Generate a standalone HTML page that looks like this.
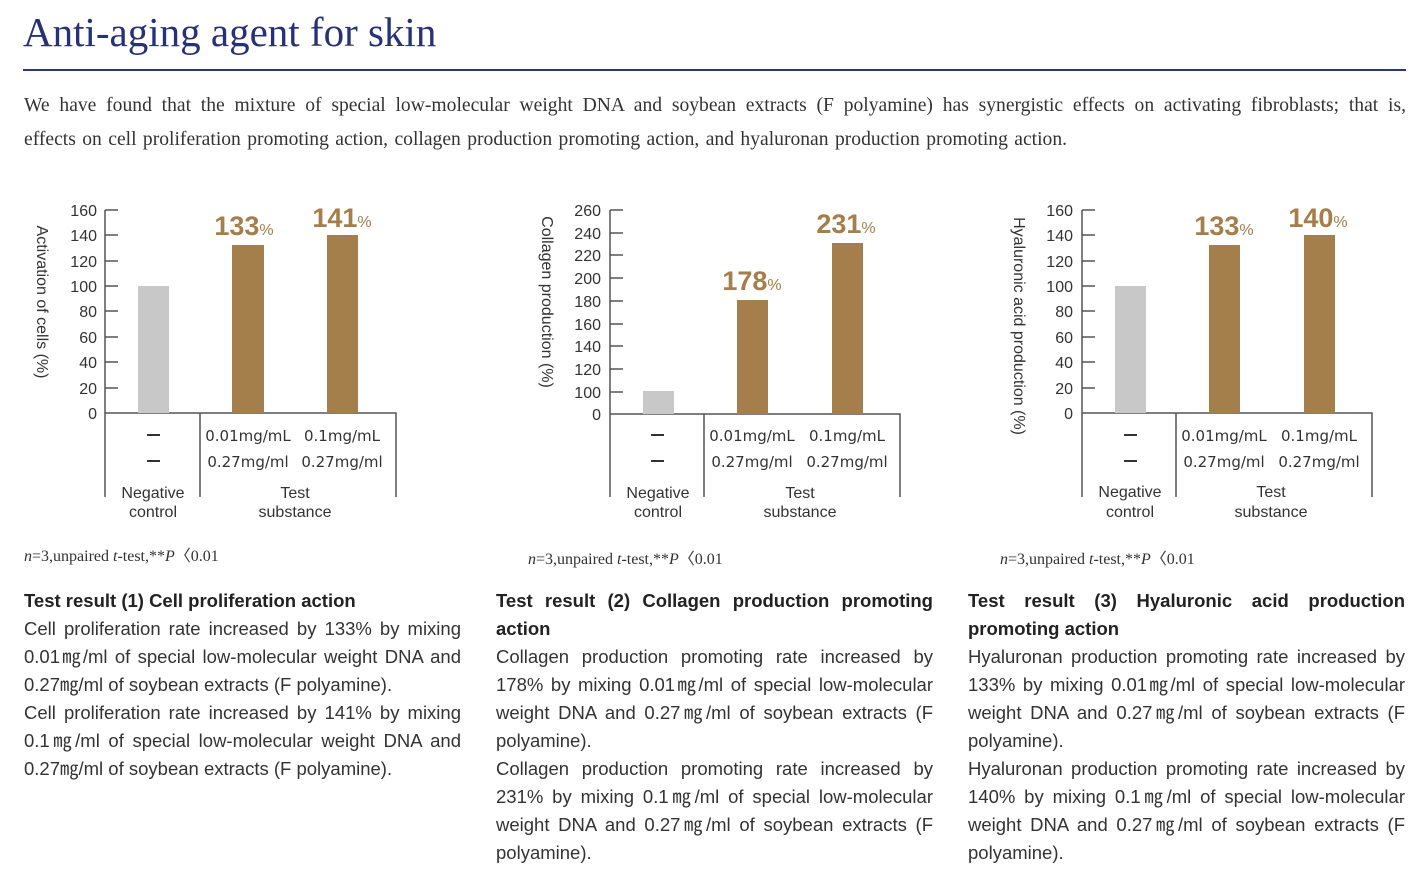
<!DOCTYPE html>
<html><head><meta charset="utf-8"><style>
body{margin:0;background:#fff;width:1424px;height:883px;overflow:hidden;position:relative}
.t{position:absolute;font-family:"Liberation Serif",serif}
.blk{position:absolute;width:437px;font-family:"Liberation Sans",sans-serif;font-size:18.5px;line-height:28px;color:#333;text-align:justify}
.blk b{color:#222}
svg{position:absolute;left:0;top:0}
</style></head><body>
<div class="t" style="left:23px;top:8px;font-size:41px;color:#283077;">Anti-aging agent for skin</div>
<div style="position:absolute;left:23px;top:69px;width:1383px;height:2px;background:#2f3678"></div>
<div class="t" style="left:24px;top:89px;width:1382px;font-size:19.6px;line-height:34px;color:#333;text-align:justify;text-align-last:justify">We have found that the mixture of special low-molecular weight DNA and soybean extracts (F polyamine) has synergistic effects on activating fibroblasts; that is,</div>
<div class="t" style="left:24px;top:123px;width:1382px;font-size:19.6px;line-height:34px;color:#333;word-spacing:1.5px">effects on cell proliferation promoting action, collagen production promoting action, and hyaluronan production promoting action.</div>

<svg width="1424" height="883" font-family="Liberation Sans, sans-serif" fill="#333">
<g stroke="#555" stroke-width="1.5" fill="none">
<path d="M105,210V497M105,413H396V497M200,413V497"/>
<path d="M105,210h13M105,235h13M105,261h13M105,286h13M105,311h13M105,337h13M105,362h13M105,388h13"/>
<path d="M610,210V497M610,414H900V497M704,414V497"/>
<path d="M610,210h13M610,233h13M610,255h13M610,278h13M610,301h13M610,324h13M610,346h13M610,369h13M610,392h13"/>
<path d="M1082,210V497M1082,413H1372V497M1176,413V497"/>
<path d="M1082,210h13M1082,235h13M1082,261h13M1082,286h13M1082,311h13M1082,337h13M1082,362h13M1082,388h13"/>
</g>
<g>
<rect x="138" y="286" width="31" height="127" fill="#c8c8c8"/>
<rect x="232" y="245" width="32" height="168" fill="#a47e4b"/>
<rect x="327" y="235" width="31" height="178" fill="#a47e4b"/>
<rect x="643" y="391" width="31" height="23" fill="#c8c8c8"/>
<rect x="737" y="300" width="31" height="114" fill="#a47e4b"/>
<rect x="832" y="243" width="31" height="171" fill="#a47e4b"/>
<rect x="1115" y="286" width="31" height="127" fill="#c8c8c8"/>
<rect x="1209" y="245" width="31" height="168" fill="#a47e4b"/>
<rect x="1304" y="235" width="31" height="178" fill="#a47e4b"/>
</g>
<g font-size="16" text-anchor="end">
<text x="97" y="216">160</text><text x="97" y="241">140</text><text x="97" y="267">120</text><text x="97" y="292">100</text><text x="97" y="317">80</text><text x="97" y="343">60</text><text x="97" y="368">40</text><text x="97" y="394">20</text><text x="97" y="419">0</text>
<text x="601" y="216">260</text><text x="601" y="239">240</text><text x="601" y="261">220</text><text x="601" y="284">200</text><text x="601" y="307">180</text><text x="601" y="330">160</text><text x="601" y="352">140</text><text x="601" y="375">120</text><text x="601" y="398">100</text><text x="601" y="420">0</text>
<text x="1073" y="216">160</text><text x="1073" y="241">140</text><text x="1073" y="267">120</text><text x="1073" y="292">100</text><text x="1073" y="317">80</text><text x="1073" y="343">60</text><text x="1073" y="368">40</text><text x="1073" y="394">20</text><text x="1073" y="419">0</text>
</g>
<g font-size="16" text-anchor="middle">
<text transform="translate(37,302) rotate(90)">Activation of cells (%)</text>
<text transform="translate(542,302) rotate(90)">Collagen production (%)</text>
<text transform="translate(1014,326) rotate(90)">Hyaluronic acid production (%)</text>
</g>
<g font-size="27" font-weight="bold" fill="#a47e4b" text-anchor="middle">
<text x="244" y="235">133<tspan font-size="16" font-weight="normal">%</tspan></text>
<text x="342" y="227">141<tspan font-size="16" font-weight="normal">%</tspan></text>
<text x="752" y="290">178<tspan font-size="16" font-weight="normal">%</tspan></text>
<text x="846" y="233">231<tspan font-size="16" font-weight="normal">%</tspan></text>
<text x="1224" y="235">133<tspan font-size="16" font-weight="normal">%</tspan></text>
<text x="1318" y="227">140<tspan font-size="16" font-weight="normal">%</tspan></text>
</g>
<g font-size="15" text-anchor="middle" font-family="DejaVu Sans, sans-serif">
<text x="248" y="441">0.01mg/mL</text><text x="342" y="441">0.1mg/mL</text><text x="248" y="467">0.27mg/ml</text><text x="342" y="467">0.27mg/ml</text>
<text x="752" y="441">0.01mg/mL</text><text x="847" y="441">0.1mg/mL</text><text x="752" y="467">0.27mg/ml</text><text x="847" y="467">0.27mg/ml</text>
<text x="1224" y="441">0.01mg/mL</text><text x="1319" y="441">0.1mg/mL</text><text x="1224" y="467">0.27mg/ml</text><text x="1319" y="467">0.27mg/ml</text>
</g>
<g stroke="#333" stroke-width="2">
<path d="M147,435h13M147,461h13M651,435h13M651,461h13M1124,435h13M1124,461h13"/>
</g>
<g font-size="16" text-anchor="middle">
<text x="153" y="498">Negative</text><text x="153" y="517">control</text>
<text x="295" y="498">Test</text><text x="295" y="517">substance</text>
<text x="658" y="498">Negative</text><text x="658" y="517">control</text>
<text x="800" y="498">Test</text><text x="800" y="517">substance</text>
<text x="1130" y="497">Negative</text><text x="1130" y="517">control</text>
<text x="1271" y="497">Test</text><text x="1271" y="517">substance</text>
</g>
<g font-size="16" font-family="Liberation Serif, serif">
<text x="24" y="561"><tspan font-style="italic">n</tspan>=3,unpaired <tspan font-style="italic">t</tspan>-test,**<tspan font-style="italic">P</tspan>〈0.01</text>
<text x="528" y="564"><tspan font-style="italic">n</tspan>=3,unpaired <tspan font-style="italic">t</tspan>-test,**<tspan font-style="italic">P</tspan>〈0.01</text>
<text x="1000" y="564"><tspan font-style="italic">n</tspan>=3,unpaired <tspan font-style="italic">t</tspan>-test,**<tspan font-style="italic">P</tspan>〈0.01</text>
</g>
</svg>

<div class="blk" style="left:24px;top:587px"><b>Test result (1) Cell proliferation action</b><br>Cell proliferation rate increased by 133% by mixing 0.01㎎/ml of special low-molecular weight DNA and 0.27㎎/ml of soybean extracts (F polyamine).<br>Cell proliferation rate increased by 141% by mixing 0.1㎎/ml of special low-molecular weight DNA and 0.27㎎/ml of soybean extracts (F polyamine).</div>
<div class="blk" style="left:496px;top:587px"><b>Test result (2) Collagen production promoting action</b><br>Collagen production promoting rate increased by 178% by mixing 0.01㎎/ml of special low-molecular weight DNA and 0.27㎎/ml of soybean extracts (F polyamine).<br>Collagen production promoting rate increased by 231% by mixing 0.1㎎/ml of special low-molecular weight DNA and 0.27㎎/ml of soybean extracts (F polyamine).</div>
<div class="blk" style="left:968px;top:587px"><b>Test result (3) Hyaluronic acid production promoting action</b><br>Hyaluronan production promoting rate increased by 133% by mixing 0.01㎎/ml of special low-molecular weight DNA and 0.27㎎/ml of soybean extracts (F polyamine).<br>Hyaluronan production promoting rate increased by 140% by mixing 0.1㎎/ml of special low-molecular weight DNA and 0.27㎎/ml of soybean extracts (F polyamine).</div>
</body></html>
